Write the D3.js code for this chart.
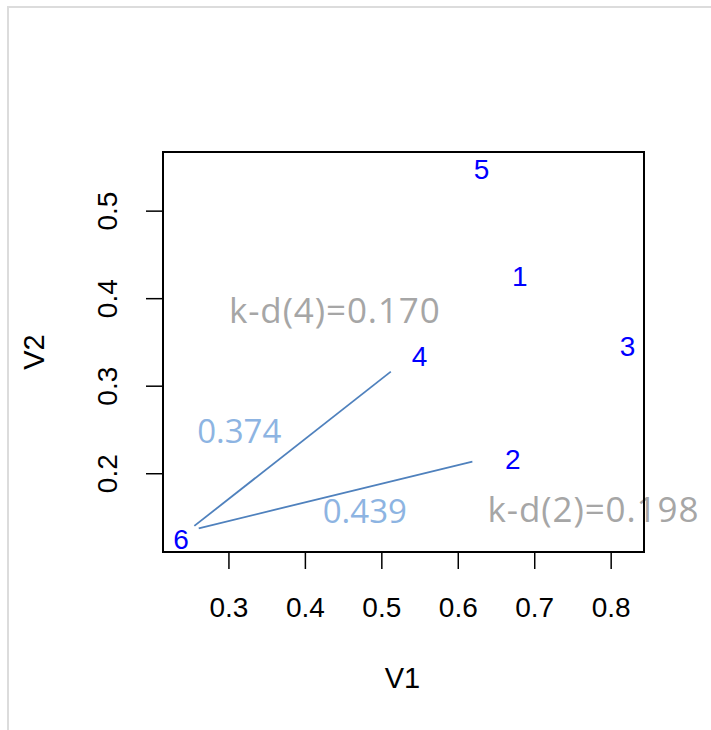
<!DOCTYPE html>
<html>
<head>
<meta charset="utf-8">
<script src="https://cdn.jsdelivr.net/npm/d3@7"></script>
<style>
  html, body { margin: 0; padding: 0; background: #fff; }
  svg { display: block; }
</style>
</head>
<body>
<svg id="chart" width="711" height="730"></svg>
<script>
  // point labels and their coordinates
  const labels = ['1', '2', '3', '4', '5', '6'];
  const v1 = [0.681, 0.672, 0.822, 0.550, 0.631, 0.238];
  const v2 = [0.425, 0.216, 0.345, 0.334, 0.548, 0.125];

  // segments drawn from near point 6
  const segFrom = [[0.2554, 0.1398], [0.2611, 0.1371]];
  const segTo = [[0.5124, 0.3161], [0.6191, 0.2133]];
  const segText = ['0.374', '0.439'];
  const segTextAt = [[0.3141, 0.2346], [0.4784, 0.1435]];

  const kdText = ['k-d(4)=0.170', 'k-d(2)=0.198'];
  const kdTextAt = [[0.4391, 0.3718], [0.7775, 0.1447]];

  const xTicks = [0.3, 0.4, 0.5, 0.6, 0.7, 0.8];
  const yTicks = [0.2, 0.3, 0.4, 0.5];

(() => {
  const svg = d3.select('#chart'),
      mLeft = 163, mRight = 644, mTop = 152, mBottom = 552,
      sans = '"Liberation Sans", Arial, sans-serif',
      ui = '"Open Sans", "Noto Sans", sans-serif';

  // outer frame
  svg.append('rect')
      .attr('x', 8).attr('y', 7)
      .attr('width', 720).attr('height', 740)
      .attr('fill', 'none')
      .attr('stroke', '#dcdcdc')
      .attr('stroke-width', 2);

  const x = d3.scaleLinear().domain([0.2144, 0.8436]).range([mLeft, mRight]);
  const y = d3.scaleLinear().domain([0.110, 0.567]).range([mBottom, mTop]);

  // x axis
  const xAxis = svg.append('g').attr('transform', `translate(0,${mBottom})`)
      .call(d3.axisBottom(x).tickValues(xTicks).tickSize(17).tickPadding(28)
          .tickFormat(d3.format('.1f')));
  xAxis.select('.domain').remove();
  xAxis.selectAll('line').attr('stroke', '#000').attr('stroke-width', 1.5);
  xAxis.selectAll('text')
      .attr('font-family', sans).attr('font-size', 28).attr('fill', '#000');

  // y axis, rotated labels
  const yAxis = svg.append('g').attr('transform', `translate(${mLeft},0)`)
      .call(d3.axisLeft(y).tickValues(yTicks).tickSize(17)
          .tickFormat(d3.format('.1f')));
  yAxis.select('.domain').remove();
  yAxis.selectAll('line').attr('stroke', '#000').attr('stroke-width', 1.5);
  yAxis.selectAll('text')
      .attr('font-family', sans).attr('font-size', 28).attr('fill', '#000')
      .attr('x', null).attr('dy', null)
      .attr('text-anchor', 'middle')
      .attr('transform', 'translate(-46,0) rotate(-90)');

  svg.append('text')
      .attr('x', (mLeft + mRight) / 2 - 1).attr('y', 688)
      .attr('text-anchor', 'middle')
      .attr('font-family', sans).attr('font-size', 29)
      .text('V1');

  svg.append('text')
      .attr('transform', `translate(43.5,${(mTop + mBottom) / 2}) rotate(-90)`)
      .attr('text-anchor', 'middle')
      .attr('font-family', sans).attr('font-size', 29)
      .text('V2');

  // segments
  svg.append('g').selectAll('line')
      .data(segFrom.map((d, i) => [d, segTo[i]]))
      .enter().append('line')
      .attr('x1', d => x(d[0][0])).attr('y1', d => y(d[0][1]))
      .attr('x2', d => x(d[1][0])).attr('y2', d => y(d[1][1]))
      .attr('stroke', '#4F81BD')
      .attr('stroke-width', 1.8);

  svg.append('g').selectAll('text')
      .data(segText)
      .enter().append('text')
      .attr('x', (d, i) => x(segTextAt[i][0]))
      .attr('y', (d, i) => y(segTextAt[i][1]))
      .attr('text-anchor', 'middle')
      .attr('font-family', ui).attr('font-size', 33)
      .attr('fill', '#8DB4E2')
      .text(d => d);

  svg.append('g').selectAll('text')
      .data(kdText)
      .enter().append('text')
      .attr('x', (d, i) => x(kdTextAt[i][0]))
      .attr('y', (d, i) => y(kdTextAt[i][1]))
      .attr('text-anchor', 'middle')
      .attr('font-family', ui).attr('font-size', 35)
      .attr('letter-spacing', 0.9)
      .attr('fill', '#A6A6A6')
      .text(d => d);

  // point labels
  svg.append('g').selectAll('text')
      .data(labels)
      .enter().append('text')
      .attr('x', (d, i) => x(v1[i]))
      .attr('y', (d, i) => y(v2[i]))
      .attr('dy', '0.36em')
      .attr('text-anchor', 'middle')
      .attr('font-family', sans).attr('font-size', 28)
      .attr('fill', '#0000FF')
      .text(d => d);

  // plot box on top
  svg.append('rect')
      .attr('x', mLeft).attr('y', mTop)
      .attr('width', mRight - mLeft).attr('height', mBottom - mTop)
      .attr('fill', 'none')
      .attr('stroke', '#000')
      .attr('stroke-width', 2);
})();
</script>
</body>
</html>
